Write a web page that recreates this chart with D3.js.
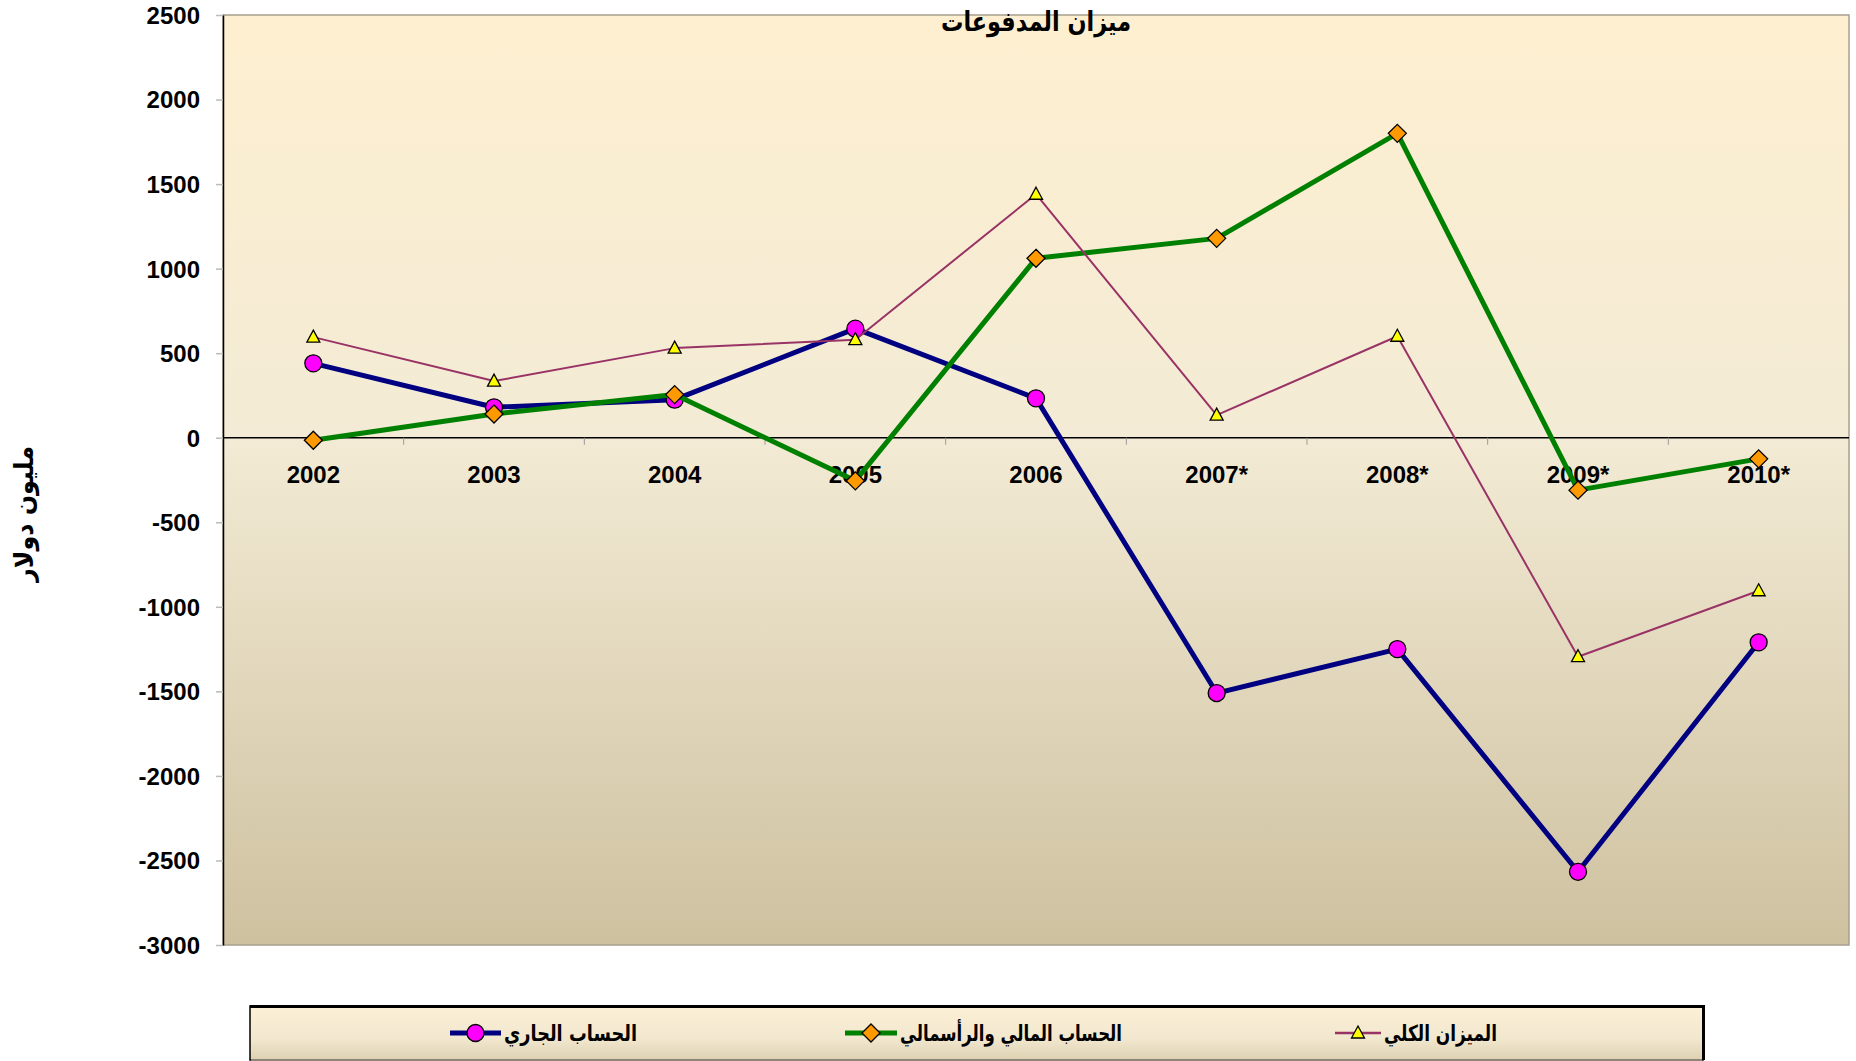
<!DOCTYPE html>
<html>
<head>
<meta charset="utf-8">
<script src="https://cdn.jsdelivr.net/npm/d3@7"></script>
<style>
  body { margin: 0; background: #fff; }
  .num { font-family: "Liberation Sans", Arial, sans-serif; font-weight: bold; font-size: 24px; fill: #000; }
  .ar { font-family: "DejaVu Sans", sans-serif; font-weight: bold; fill: #000; }
</style>
</head>
<body>
<script>

// categories (years, * = estimate)
var years = ["2002", "2003", "2004", "2005", "2006", "2007*", "2008*", "2009*", "2010*"];

// million dollars
var currentAccount = [440, 180, 225, 645, 233, -1510, -1250, -2567, -1210];
var capitalAccount = [-15, 140, 255, -255, 1061, 1179, 1800, -310, -125];
var overallBalance = [595, 335, 530, 580, 1440, 134, 600, -1295, -905];

var yTicks = [2500, 2000, 1500, 1000, 500, 0, -500, -1000, -1500, -2000, -2500, -3000];

var seriesNames = ["الحساب الجاري", "الحساب المالي والرأسمالي", "الميزان الكلي"];

var W = 1856, H = 1061;
var plot = {left: 223, right: 1849, top: 15, bottom: 945};

var x = d3.scaleBand()
    .domain(years)
    .range([plot.left, plot.right])
    .padding(0);

var y = d3.scaleLinear()
    .domain([-3000, 2500])
    .range([plot.bottom, plot.top]);

var svg = d3.select("body").append("svg")
    .attr("width", W)
    .attr("height", H);

var defs = svg.append("defs");

var bg = defs.append("linearGradient")
    .attr("id", "bg").attr("x1", 0).attr("y1", 0).attr("x2", 0).attr("y2", 1);
bg.append("stop").attr("offset", "0%").attr("stop-color", "#FEEFD0");
bg.append("stop").attr("offset", "45%").attr("stop-color", "#F3EBD5");
bg.append("stop").attr("offset", "100%").attr("stop-color", "#CEC1A0");

var lg = defs.append("linearGradient")
    .attr("id", "lg").attr("x1", 0).attr("y1", 0).attr("x2", 0).attr("y2", 1);
lg.append("stop").attr("offset", "0%").attr("stop-color", "#FCF0D6");
lg.append("stop").attr("offset", "60%").attr("stop-color", "#F2E8CF");
lg.append("stop").attr("offset", "100%").attr("stop-color", "#DED1B2");

// plot background
svg.append("rect")
    .attr("x", plot.left)
    .attr("y", plot.top)
    .attr("width", plot.right - plot.left)
    .attr("height", plot.bottom - plot.top)
    .style("fill", "url(#bg)")
    .style("stroke", "#A89F8C")
    .style("stroke-width", 1.5);

// y axis (plain hyphen for negatives, like the original)
var yAxis = d3.axisLeft(y)
    .tickValues(yTicks)
    .tickSize(7)
    .tickSizeOuter(0)
    .tickPadding(16)
    .tickFormat(function(d) { return String(d); });

var gy = svg.append("g")
    .attr("transform", "translate(" + plot.left + ",0)")
    .call(yAxis);
gy.select(".domain").style("stroke", "#000").style("stroke-width", 1.5);
gy.selectAll(".tick line").style("stroke", "#BBB").style("stroke-width", 1.5);
gy.selectAll(".tick text")
    .attr("class", "num")
    .attr("dy", "0.35em");
gy.attr("font-family", null).attr("font-size", null);

// zero line with category ticks
svg.append("line")
    .attr("x1", plot.left).attr("x2", plot.right)
    .attr("y1", y(0)).attr("y2", y(0))
    .style("stroke", "#000")
    .style("stroke-width", 1.5);

svg.selectAll(".xtick")
    .data(years.slice(1))
  .enter().append("line")
    .attr("class", "xtick")
    .attr("x1", function(d) { return x(d); })
    .attr("x2", function(d) { return x(d); })
    .attr("y1", y(0))
    .attr("y2", y(0) + 7)
    .style("stroke", "#999")
    .style("stroke-width", 1);

// category labels
svg.selectAll(".xlab")
    .data(years)
  .enter().append("text")
    .attr("class", "num")
    .attr("x", function(d) { return x(d) + x.bandwidth() / 2; })
    .attr("y", y(0) + 45)
    .style("text-anchor", "middle")
    .text(function(d) { return d; });

// title & axis title
svg.append("text")
    .attr("class", "ar")
    .attr("x", (plot.left + plot.right) / 2)
    .attr("y", 31)
    .attr("direction", "rtl")
    .attr("textLength", 190)
    .attr("lengthAdjust", "spacingAndGlyphs")
    .style("font-size", "27px")
    .style("text-anchor", "middle")
    .text("ميزان المدفوعات");

svg.append("text")
    .attr("class", "ar")
    .attr("transform", "translate(33,514) rotate(-90)")
    .attr("direction", "rtl")
    .attr("textLength", 136)
    .attr("lengthAdjust", "spacingAndGlyphs")
    .style("font-size", "26px")
    .style("text-anchor", "middle")
    .text("مليون دولار");

// series
var cx = function(d, i) { return x(years[i]) + x.bandwidth() / 2; };
var line = d3.line()
    .x(function(d, i) { return x(years[i]) + x.bandwidth() / 2; })
    .y(function(d) { return y(d); });

var series = [
  {name: seriesNames[0], values: currentAccount, stroke: "#000080", width: 5, shape: "circle", fill: "#FF00FF"},
  {name: seriesNames[1], values: capitalAccount, stroke: "#008000", width: 5, shape: "diamond", fill: "#FF9900"},
  {name: seriesNames[2], values: overallBalance, stroke: "#993366", width: 2, shape: "triangle", fill: "#FFFF00"}
];

function marker(g, shape, fill) {
  if (shape == "circle") {
    g.append("circle").attr("r", 8.5);
  } else if (shape == "diamond") {
    g.append("path").attr("d", "M0,-9L9,0L0,9L-9,0Z");
  } else {
    g.append("path").attr("d", "M0,-7L6.5,5L-6.5,5Z");
  }
  g.selectAll("circle,path")
      .style("fill", fill)
      .style("stroke", "#000")
      .style("stroke-width", 1.3);
}

series.forEach(function(s) {
  svg.append("path")
      .datum(s.values)
      .attr("d", line)
      .style("fill", "none")
      .style("stroke", s.stroke)
      .style("stroke-width", s.width)
      .style("stroke-linejoin", "round");

  svg.selectAll(".m-" + s.shape)
      .data(s.values)
    .enter().append("g")
      .attr("class", "m-" + s.shape)
      .attr("transform", function(d, i) { return "translate(" + cx(d, i) + "," + y(d) + ")"; })
      .each(function() { marker(d3.select(this), s.shape, s.fill); });
});

// legend
var legend = svg.append("g");
legend.append("rect")
    .attr("x", 250).attr("y", 1006)
    .attr("width", 1453).attr("height", 54)
    .style("fill", "url(#lg)")
    .style("stroke", "#000")
    .style("stroke-width", 1.5);
legend.append("path")
    .attr("d", "M250,1006.5H1703.5V1060")
    .style("fill", "none")
    .style("stroke", "#000")
    .style("stroke-width", 3);
legend.append("line")
    .attr("x1", 251).attr("x2", 1702).attr("y1", 1060).attr("y2", 1060)
    .style("stroke", "#A89F8C").style("stroke-width", 1.5);

var legendX = [450, 845, 1335];
var legendLen = [51, 52, 46];
var legendTextW = [133, 222, 113];

series.forEach(function(s, i) {
  var g = legend.append("g")
      .attr("transform", "translate(" + legendX[i] + ",1033)");
  g.append("line")
      .attr("x1", 0).attr("x2", legendLen[i])
      .style("stroke", s.stroke)
      .style("stroke-width", s.width == 2 ? 2.5 : 5);
  var m = g.append("g").attr("transform", "translate(" + legendLen[i] / 2 + ",0)");
  marker(m, s.shape, s.fill);
  g.append("text")
      .attr("class", "ar")
      .attr("x", legendLen[i] + 3)
      .attr("y", 0)
      .attr("dy", "0.35em")
      .attr("direction", "rtl")
      .attr("textLength", legendTextW[i])
      .attr("lengthAdjust", "spacingAndGlyphs")
      .style("font-size", "22px")
      .style("text-anchor", "end")
      .text(s.name);
});

</script>
</body>
</html>
